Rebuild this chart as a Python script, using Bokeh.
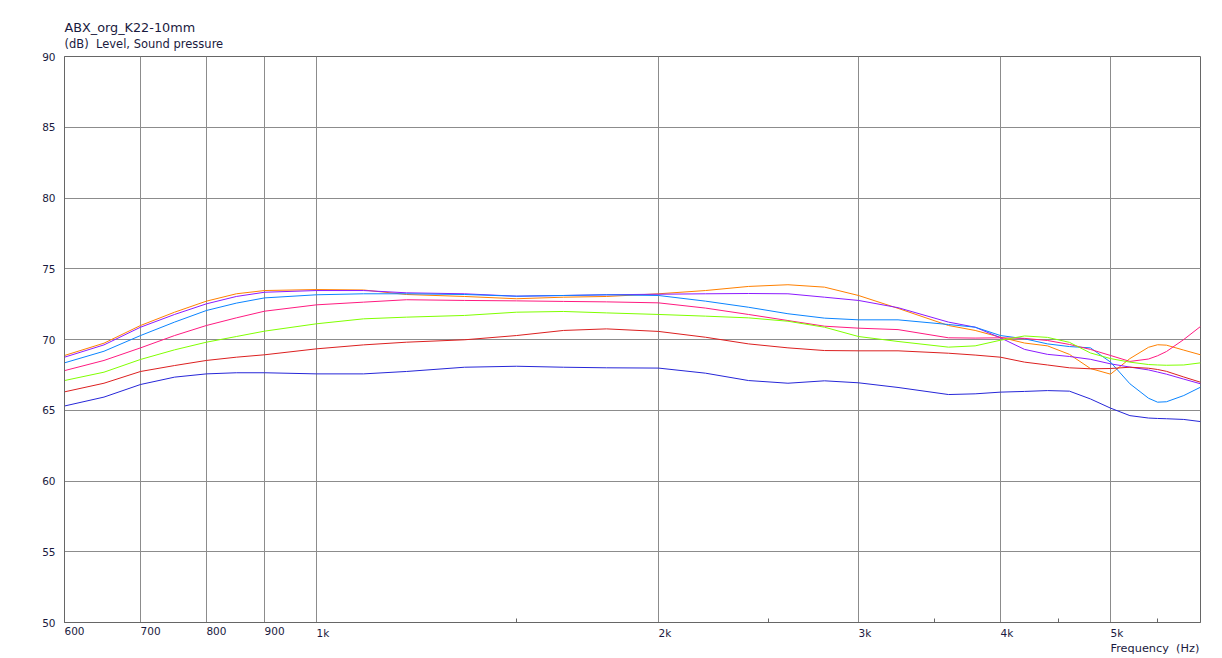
from bokeh.plotting import figure
from bokeh.models import Range1d, FixedTicker, ColumnDataSource
from bokeh.core.properties import value
from bokeh.embed import file_html
from bokeh.resources import INLINE

# ---------------- data ----------------
freq = [600, 650, 700, 750, 800, 850, 900, 1000, 1100, 1200, 1350, 1500, 1650, 1800,
        2000, 2200, 2400, 2600, 2800, 3000, 3250, 3600, 3800, 4000, 4200, 4400, 4600,
        4800, 5000, 5200, 5400, 5500, 5600, 5800, 6000]

orange = [68.87, 69.74, 70.99, 71.93, 72.71, 73.23, 73.46, 73.53, 73.50, 73.18, 73.04, 72.88, 72.99, 73.04,
          73.23, 73.46, 73.75, 73.87, 73.70, 73.11, 72.20, 70.99, 70.64, 70.16, 69.75, 69.55, 68.95,
          67.95, 67.55, 68.65, 69.45, 69.63, 69.60, 69.25, 68.92]
purple = [68.75, 69.62, 70.87, 71.77, 72.52, 73.04, 73.34, 73.46, 73.46, 73.30, 73.23, 73.06, 73.11, 73.16,
          73.20, 73.23, 73.25, 73.23, 72.99, 72.76, 72.25, 71.23, 70.87, 70.12, 69.30, 68.95, 68.80,
          68.60, 68.28, 68.05, 67.85, 67.70, 67.55, 67.20, 66.87]
skyblue = [68.35, 69.17, 70.28, 71.23, 72.05, 72.57, 72.94, 73.16, 73.23, 73.23, 73.18, 73.06, 73.11, 73.16,
           73.11, 72.71, 72.28, 71.82, 71.51, 71.39, 71.39, 71.06, 70.87, 70.28, 70.05, 69.69, 69.50,
           69.41, 68.40, 66.87, 65.85, 65.57, 65.60, 66.04, 66.63]
pink = [67.80, 68.52, 69.41, 70.28, 70.99, 71.53, 72.00, 72.45, 72.64, 72.81, 72.76, 72.73, 72.69, 72.66,
        72.59, 72.22, 71.77, 71.34, 70.94, 70.80, 70.70, 70.12, 70.10, 70.12, 70.08, 69.93, 69.65,
        69.30, 68.87, 68.45, 68.62, 68.85, 69.15, 70.00, 70.92]
green = [67.10, 67.69, 68.59, 69.27, 69.81, 70.21, 70.59, 71.11, 71.46, 71.58, 71.70, 71.93, 71.98, 71.88,
         71.77, 71.65, 71.53, 71.29, 70.87, 70.21, 69.86, 69.46, 69.55, 69.95, 70.25, 70.15, 69.80,
         69.05, 68.65, 68.40, 68.23, 68.20, 68.18, 68.20, 68.35]
red = [66.30, 66.91, 67.74, 68.16, 68.52, 68.75, 68.92, 69.34, 69.62, 69.81, 69.98, 70.28, 70.64, 70.75,
       70.57, 70.16, 69.69, 69.41, 69.22, 69.20, 69.20, 69.03, 68.90, 68.75, 68.40, 68.20, 68.00,
       67.93, 67.95, 68.04, 67.97, 67.88, 67.75, 67.35, 66.98]
darkblue = [65.30, 65.93, 66.82, 67.34, 67.57, 67.65, 67.65, 67.57, 67.57, 67.74, 68.04, 68.11, 68.04, 68.00,
            67.98, 67.62, 67.10, 66.91, 67.08, 66.94, 66.61, 66.11, 66.16, 66.28, 66.33, 66.39, 66.35,
            65.80, 65.15, 64.62, 64.45, 64.42, 64.40, 64.35, 64.20]

series_names = ["orange", "purple", "skyblue", "pink", "green", "red", "darkblue"]
series_values = [orange, purple, skyblue, pink, green, red, darkblue]
series_colors = ["#FF8000", "#8C1AFF", "#0A84FF", "#FF1A80", "#80FF00", "#DC2020", "#2626D8"]

x_ticks = [600, 700, 800, 900, 1000, 2000, 3000, 4000, 5000]
x_tick_labels = ["600", "700", "800", "900", "1k", "2k", "3k", "4k", "5k"]
x_minor = [1500, 2500, 3500, 4500, 5500]
y_ticks = [50, 55, 60, 65, 70, 75, 80, 85, 90]

title_text = "ABX_org_K22-10mm"
ylabel_text = "(dB)\u00a0 Level, Sound pressure"
xlabel_text = "Frequency\u00a0 (Hz)"

FONT = "DejaVu Sans"
TXT = "#1a1a40"
GRID = "#8c8c8c"
AXIS = "#666666"

# ---------------- figure ----------------
p = figure(x_axis_type="log", x_range=Range1d(600, 6000), y_range=Range1d(50, 90),
           frame_width=1136, frame_height=566,
           min_border_left=64, min_border_right=14, min_border_top=56, min_border_bottom=34,
           output_backend="svg", toolbar_location=None, background_fill_color="white",
           border_fill_color="white")

p.outline_line_color = AXIS
p.outline_line_width = 1

# x axis
p.xaxis.ticker = FixedTicker(ticks=x_ticks[1:], minor_ticks=x_minor)
p.xaxis.major_label_text_font_size = "0px"
p.xaxis.major_label_text_alpha = 0
p.xaxis.major_tick_in = 0
p.xaxis.major_tick_out = 0
p.xaxis.minor_tick_in = 4
p.xaxis.minor_tick_out = 0
p.xaxis.minor_tick_line_color = AXIS
p.xaxis.axis_line_color = AXIS

# y axis
p.yaxis.ticker = FixedTicker(ticks=y_ticks)
p.yaxis.major_tick_in = 0
p.yaxis.major_tick_out = 0
p.yaxis.minor_tick_line_color = None
p.yaxis.major_label_standoff = 9
p.yaxis.major_label_text_font = FONT
p.yaxis.major_label_text_font_size = "10.5px"
p.yaxis.major_label_text_color = TXT
p.yaxis.axis_line_color = AXIS

p.xgrid.grid_line_color = GRID
p.ygrid.grid_line_color = GRID
p.xgrid.ticker = FixedTicker(ticks=x_ticks[1:])
p.ygrid.ticker = FixedTicker(ticks=y_ticks)

# curves
for name, vals, col in zip(series_names, series_values, series_colors):
    src = ColumnDataSource(dict(x=freq, y=vals))
    p.line("x", "y", source=src, line_color=col, line_width=1, name=name)

# x tick labels (left aligned at tick, like the original)
r = p.text(x=x_ticks, y=[50] * len(x_ticks), text=x_tick_labels,
           text_font=value(FONT), text_font_size="10.5px", text_color=TXT,
           text_align="left", text_baseline="top", y_offset=4)
r.level = "overlay"

r = p.text(x=[x_ticks[-1]], y=[50], text=[xlabel_text],
           text_font=value(FONT), text_font_size="11.3px", text_color=TXT,
           text_align="left", text_baseline="top", y_offset=19)
r.level = "overlay"

# title texts above the frame
r = p.text(x=[600], y=[90], text=[title_text],
           text_font=value(FONT), text_font_size="12.8px", text_color=TXT,
           text_align="left", text_baseline="alphabetic", y_offset=-29)
r.level = "overlay"
r = p.text(x=[600], y=[90], text=[ylabel_text],
           text_font=value(FONT), text_font_size="11.5px", text_color=TXT,
           text_align="left", text_baseline="alphabetic", y_offset=-13)
r.level = "overlay"

open("out.html", "w").write(file_html(p, INLINE))
